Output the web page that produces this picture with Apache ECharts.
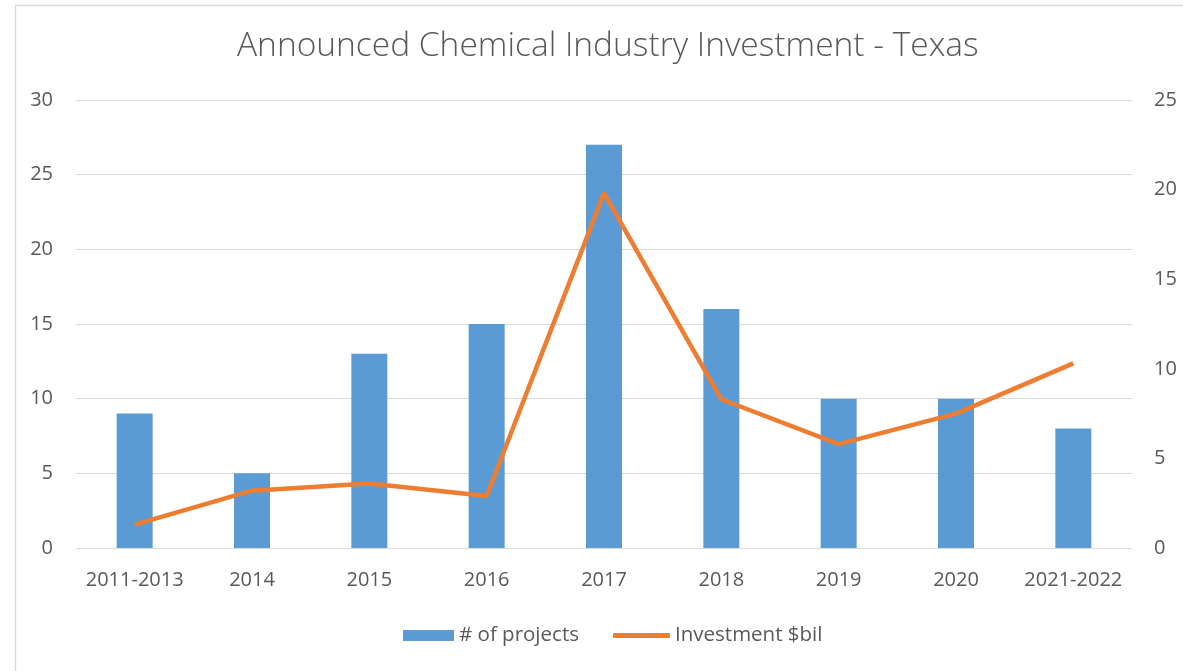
<!DOCTYPE html>
<html>
<head>
<meta charset="utf-8">
<script src="https://cdn.jsdelivr.net/npm/echarts@6/dist/echarts.min.js"></script>
<style>
html,body{margin:0;padding:0;background:#fff;}
#chart{width:1183px;height:671px;}
</style>
</head>
<body>
<div id="chart"></div>
<script>
const categories = ['2011-2013','2014','2015','2016','2017','2018','2019','2020','2021-2022'];
const projects = [9,5,13,15,27,16,10,10,8];
const investment = [1.3,3.2,3.6,2.9,19.8,8.3,5.8,7.5,10.3];

const chart = echarts.init(document.getElementById('chart'), null, {renderer:'canvas'});
const FONT = 'Open Sans';
const GREY = '#595959';
chart.setOption({
  backgroundColor:'#ffffff',
  animation:false,
  graphic:[{
    type:'rect', left:13, top:3, shape:{width:1200, height:700},
    style:{fill:'none', stroke:'#d9d9d9', lineWidth:1.5}, silent:true, z:-1
  }],
  title:{
    text:'Announced Chemical Industry Investment - Texas',
    left:232, top:24,
    textStyle:{fontFamily:FONT, fontWeight:300, fontSize:33.5, color:GREY}
  },
  legend:[{
    left:398, top:620,
    itemWidth:51, itemHeight:11, itemGap:28,
    textStyle:{fontFamily:FONT, fontSize:20.5, color:GREY},
    data:[{name:'# of projects', icon:'rect'}]
  },{
    left:608, top:620,
    itemWidth:57, itemHeight:5, itemGap:28,
    textStyle:{fontFamily:FONT, fontSize:20.5, color:GREY},
    data:[{name:'Investment $bil', icon:'roundRect'}]
  }],
  grid:{left:76, right:51, top:100, bottom:123, containLabel:false},
  xAxis:{
    type:'category', data:categories,
    axisLine:{lineStyle:{color:'#d9d9d9', width:1}},
    axisTick:{show:false},
    axisLabel:{fontFamily:FONT, fontSize:20, color:GREY, margin:22, interval:0, hideOverlap:false}
  },
  yAxis:[{
    type:'value', min:0, max:30, interval:5,
    axisLine:{show:false}, axisTick:{show:false},
    splitLine:{lineStyle:{color:'#d9d9d9', width:1}},
    axisLabel:{fontFamily:FONT, fontSize:20, color:GREY, margin:23}
  },{
    type:'value', min:0, max:25, interval:5, position:'right',
    axisLine:{show:false}, axisTick:{show:false},
    splitLine:{show:false},
    axisLabel:{fontFamily:FONT, fontSize:20, color:GREY, margin:22}
  }],
  series:[{
    name:'# of projects', type:'bar', data:projects, barWidth:36,
    itemStyle:{color:'#5B9BD5'}
  },{
    name:'Investment $bil', type:'line', yAxisIndex:1, data:investment,
    symbol:'none', lineStyle:{color:'#ED7D31', width:4.5}, itemStyle:{color:'#ED7D31'}
  }]
});
</script>
</body>
</html>
